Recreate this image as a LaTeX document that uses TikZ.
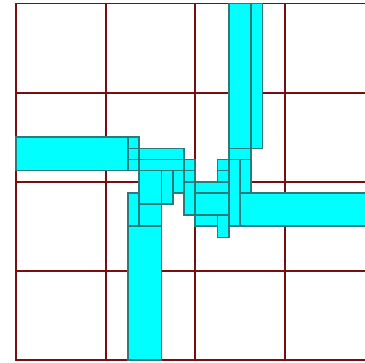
\documentclass[tikz,border=0pt]{standalone}
\usepackage{tikz}
\definecolor{gmaroon}{HTML}{761010}
\definecolor{qteal}{HTML}{2A7C7C}
\definecolor{qcyan}{HTML}{00FFFF}
\tikzset{
  gridln/.style={draw=gmaroon,line width=1.9pt,line cap=rect},
  blk/.style={fill=qcyan,draw=qteal,line width=1.6pt},
}
\begin{document}
\begin{tikzpicture}[x=11.2pt,y=-11.14pt]
  \clip (-1.4286,-0.3142) rectangle (31.161,32.271);
  % grid of cells
  \foreach \k in {8,16,24} {
    \draw[gridln] (\k,0) -- (\k,32);
    \draw[gridln] (0,\k) -- (32,\k);
  }
  \draw[gridln] (0,0) rectangle (32,32);
  % blocks: west, south, centre, north, east
  \foreach \xa/\ya/\xb/\yb in {
    0/12/10/15, 10/12/11/13, 10/13/11/14, 10/14/11/15,
    11/13/15/14, 11/14/15/15, 15/14/16/15, 15/15/16/16,
    11/15/13/18, 13/15/14/18, 14/15/15/17, 15/16/16/19,
    10/17/11/20, 11/18/13/20, 10/20/13/32,
    16/16/19/17, 16/17/19/19, 16/19/18/20, 18/19/19/21,
    18/14/19/15, 18/15/19/16, 19/14/20/20, 20/14/21/17,
    19/0/21/13, 21/0/22/13, 19/13/21/14,
    20/17/32/20}
    \draw[blk] (\xa,\ya) rectangle (\xb,\yb);
\end{tikzpicture}
\end{document}
